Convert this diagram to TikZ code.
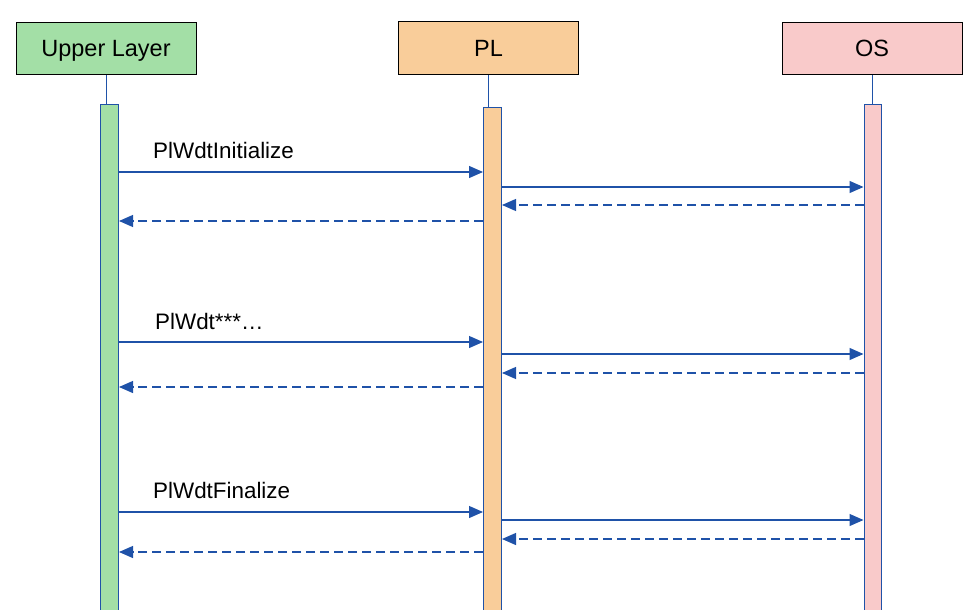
\documentclass[tikz,border=0pt]{standalone}
\usepackage{fontspec}
\setmainfont{Liberation Sans}
\usetikzlibrary{arrows.meta}
\definecolor{lineblue}{HTML}{1F52A8}
\definecolor{ulgreen}{HTML}{A3DFA6}
\definecolor{plorange}{HTML}{F9CD9A}
\definecolor{ospink}{HTML}{F9CACA}
\tikzset{
  header/.style={draw=black, line width=1pt, minimum width=180pt, minimum height=52pt, inner sep=0pt, text height=16.6pt, text depth=0pt, font=\fontsize{23.5}{26}\selectfont},
  actbar/.style={draw=lineblue, line width=1pt, minimum width=18pt, inner sep=0pt, anchor=north},
  life/.style={draw=lineblue, line width=1pt},
  msg/.style={draw=lineblue, line width=1.2pt, -{Triangle[length=14pt,width=12pt]}},
  reply/.style={msg, dash pattern=on 9pt off 5pt},
  lbl/.style={anchor=base west, inner sep=0pt, font=\fontsize{22.4}{26}\selectfont}
}
\begin{document}
\begin{tikzpicture}[x=1pt,y=-1pt]
\useasboundingbox (0,0) rectangle (975,610);
% headers
\node[header, fill=ulgreen] (ul) at (106,48.5) {Upper Layer};
\node[header, fill=plorange, minimum height=53pt] (pl) at (488.5,48.5) {PL};
\node[header, fill=ospink] (os) at (872,48.5) {OS};
% activation bars
\node[actbar, fill=ulgreen, minimum height=512pt] (ulbar) at (109.5,104) {};
\node[actbar, fill=plorange, minimum height=509pt] (plbar) at (492.5,107) {};
\node[actbar, fill=ospink, minimum width=17pt, minimum height=512pt] (osbar) at (872.5,104) {};
% lifelines
\draw[life] (ul.south) -- (ul.south |- ulbar.north);
\draw[life] (pl.south) -- (pl.south |- plbar.north);
\draw[life] (os.south) -- (os.south |- osbar.north);
% message rows
\foreach \n/\y in {a1/172,a2/187,a3/205,a4/221,b1/342,b2/354,b3/373,b4/387,c1/512,c2/520,c3/539,c4/552}
  \coordinate (\n) at (0,\y);
% group 1
\node[lbl] (l1) at (153,158) {PlWdtInitialize};
\draw[msg] (ulbar.east |- a1) -- (plbar.west |- a1);
\draw[msg] (plbar.east |- a2) -- (osbar.west |- a2);
\draw[reply] (osbar.west |- a3) -- (plbar.east |- a3);
\draw[reply] (plbar.west |- a4) -- (ulbar.east |- a4);
% group 2
\node[lbl] (l2) at (155,329) {PlWdt***…};
\draw[msg] (ulbar.east |- b1) -- (plbar.west |- b1);
\draw[msg] (plbar.east |- b2) -- (osbar.west |- b2);
\draw[reply] (osbar.west |- b3) -- (plbar.east |- b3);
\draw[reply] (plbar.west |- b4) -- (ulbar.east |- b4);
% group 3
\node[lbl] (l3) at (153,498) {PlWdtFinalize};
\draw[msg] (ulbar.east |- c1) -- (plbar.west |- c1);
\draw[msg] (plbar.east |- c2) -- (osbar.west |- c2);
\draw[reply] (osbar.west |- c3) -- (plbar.east |- c3);
\draw[reply] (plbar.west |- c4) -- (ulbar.east |- c4);
\end{tikzpicture}
\end{document}
